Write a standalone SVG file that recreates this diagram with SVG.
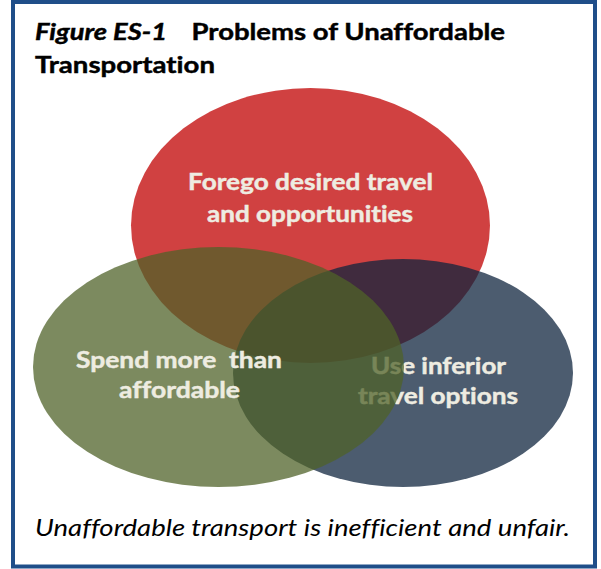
<svg xmlns="http://www.w3.org/2000/svg" width="601" height="569" viewBox="0 0 601 569">
<style>
text{font-variant-ligatures:none;font-feature-settings:"liga" 0,"clig" 0;}
.lbl{font-family:Lato,"Open Sans","Liberation Sans",sans-serif;font-weight:bold;font-size:23.5px;fill:#EEECE1;stroke:#EEECE1;stroke-width:0.45;}
.ttl{font-family:Lato,"Open Sans","Liberation Sans",sans-serif;font-weight:bold;font-size:23.5px;fill:#000;stroke:#000;stroke-width:0.45;}
.cap{font-family:Lato,"Open Sans","Liberation Sans",sans-serif;font-style:italic;font-size:23px;fill:#000;}
.ell{opacity:0.745;}
</style>
<rect x="0" y="0" width="601" height="569" fill="#fff"/>
<rect x="13" y="2" width="582" height="564.5" fill="#fff" stroke="#1F4E89" stroke-width="4"/>
<g id="title">
<text class="ttl" x="35" y="40" font-style="italic" textLength="132" lengthAdjust="spacingAndGlyphs">Figure ES-1</text>
<text class="ttl" x="191.5" y="40" textLength="313.5" lengthAdjust="spacingAndGlyphs">Problems of Unaffordable</text>
<text class="ttl" x="35" y="72.5" textLength="180" lengthAdjust="spacingAndGlyphs">Transportation</text>
</g>
<g id="connectors"/>
<g id="node-forego">
<ellipse class="ell" cx="310.5" cy="225.5" rx="179.5" ry="137.5" fill="#C00000"/>
<text class="lbl" x="310.5" y="190" text-anchor="middle" textLength="245" lengthAdjust="spacingAndGlyphs">Forego desired travel</text>
<text class="lbl" x="310" y="221.5" text-anchor="middle" textLength="206" lengthAdjust="spacingAndGlyphs">and opportunities</text>
</g>
<g id="node-inferior">
<ellipse class="ell" cx="403" cy="373" rx="170" ry="114" fill="#0F243E"/>
<text class="lbl" x="438.5" y="374" text-anchor="middle" textLength="135" lengthAdjust="spacingAndGlyphs">Use inferior</text>
<text class="lbl" x="438" y="404" text-anchor="middle" textLength="160" lengthAdjust="spacingAndGlyphs">travel options</text>
</g>
<g id="node-spend">
<ellipse class="ell" cx="218.5" cy="367" rx="185.5" ry="120" fill="#4F6228"/>
<text class="lbl" x="179" y="368" text-anchor="middle" xml:space="preserve" style="white-space:pre" textLength="206" lengthAdjust="spacingAndGlyphs">Spend more  than</text>
<text class="lbl" x="179.5" y="398" text-anchor="middle" textLength="121" lengthAdjust="spacingAndGlyphs">affordable</text>
</g>
<g id="caption">
<text class="cap" x="35" y="536" textLength="535" lengthAdjust="spacingAndGlyphs">Unaffordable transport is inefficient and unfair.</text>
</g>
</svg>
